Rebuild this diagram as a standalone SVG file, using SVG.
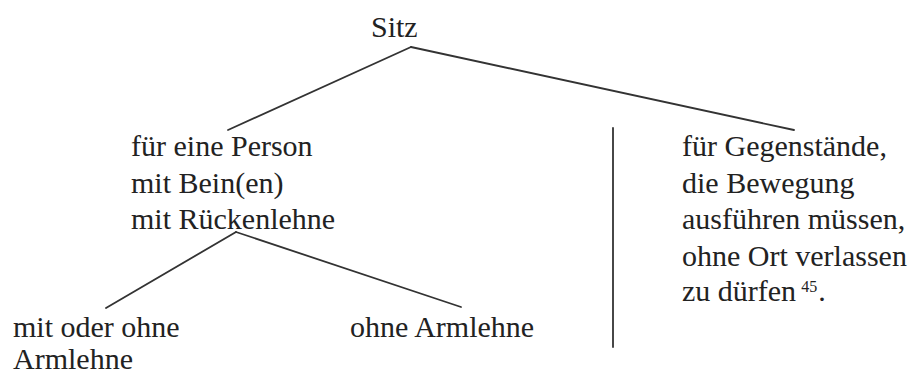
<svg xmlns="http://www.w3.org/2000/svg" width="915" height="376" viewBox="0 0 915 376">
<style>
.t{font-size:30px;fill:#222}
.sup{font-size:16px}
.c line{stroke:#333;stroke-width:1.8;stroke-linecap:round}
</style>
<rect width="915" height="376" fill="#fff"/>
<g id="connectors" class="c">
<line x1="411" y1="47" x2="228" y2="130"/>
<line x1="411" y1="47" x2="794" y2="130"/>
<line x1="236" y1="232" x2="106" y2="308"/>
<line x1="236" y1="232" x2="461" y2="307"/>
<line x1="613" y1="128" x2="613" y2="347"/>
</g>
<g class="t" font-family="Liberation Serif, serif">
<g id="sitz"><text x="371" y="37">Sitz</text></g>
<g id="person">
<text x="131" y="156">für eine Person</text>
<text x="131" y="193">mit Bein(en)</text>
<text x="131" y="229">mit Rückenlehne</text>
</g>
<g id="gegenstaende">
<text x="682" y="156">für Gegenstände,</text>
<text x="682" y="193">die Bewegung</text>
<text x="682" y="229">ausführen müssen,</text>
<text x="682" y="266">ohne Ort verlassen</text>
<text x="682" y="301">zu dürfen<tspan class="sup" dx="5" dy="-9">45</tspan><tspan dx="1" dy="9">.</tspan></text>
</g>
<g id="mit-oder-ohne">
<text x="13" y="337">mit oder ohne</text>
<text x="13" y="369">Armlehne</text>
</g>
<g id="ohne-armlehne"><text x="350" y="337">ohne Armlehne</text></g>
</g>
</svg>
